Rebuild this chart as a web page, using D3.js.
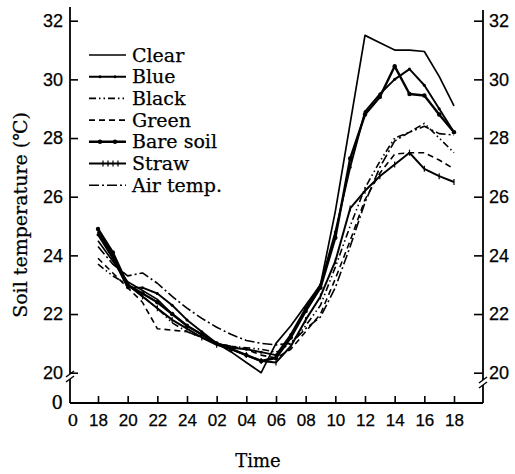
<!DOCTYPE html>
<html>
<head>
<meta charset="utf-8">
<script src="https://cdn.jsdelivr.net/npm/d3@7"></script>
<style>
  body { margin: 0; background: #fff; }
  svg { display: block; font-family: "DejaVu Serif", "Liberation Serif", serif; }
  svg text { stroke: #000; stroke-width: 0.25px; }
  .axis path { display: none; }
  .axis line { stroke: #000; stroke-width: 1.6; }
  .axis text { fill: #000; }
</style>
</head>
<body>
<div id="chart"></div>
<script>
// hours after 18:00 (18h of day 1 .. 18h of day 2), one reading per hour
var hours = d3.range(0, 25);
var tickHours = d3.range(0, 25, 2);
var tickLabels = ['18', '20', '22', '24', '02', '04', '06', '08', '10', '12', '14', '16', '18'];
var yTicks = [20, 22, 24, 26, 28, 30, 32];

var clear    = [24.5, 23.8, 23.1, 22.8, 22.5, 22.0, 21.6, 21.3, 21.0, 20.7, 20.35, 20.0, 21.0, 21.6, 22.3, 23.0, 25.5, 28.5, 31.5, 31.25, 31.0, 31.0, 30.95, 30.1, 29.1];
var blue     = [24.7, 23.9, 22.9, 22.9, 22.7, 22.3, 21.8, 21.4, 21.0, 20.85, 20.8, 20.7, 20.6, 21.3, 22.2, 23.0, 24.8, 27.0, 28.9, 29.5, 30.0, 30.35, 29.8, 29.0, 28.2];
var black    = [23.7, 23.3, 23.0, 22.6, 22.2, 21.7, 21.4, 21.2, 21.0, 20.9, 20.85, 20.8, 20.7, 21.0, 21.6, 22.3, 23.6, 25.0, 26.3, 27.2, 28.0, 28.2, 28.5, 28.0, 27.5];
var green    = [23.9, 23.4, 22.9, 22.4, 21.5, 21.45, 21.4, 21.2, 21.0, 20.9, 20.8, 20.6, 20.5, 20.8, 21.4, 22.0, 23.2, 24.5, 25.9, 26.8, 27.45, 27.5, 27.5, 27.25, 26.95];
var bareSoil = [24.9, 24.1, 23.0, 22.7, 22.4, 22.0, 21.6, 21.3, 21.0, 20.8, 20.6, 20.4, 20.5, 21.2, 22.1, 22.9, 24.6, 27.3, 28.8, 29.4, 30.45, 29.5, 29.45, 28.8, 28.2];
var straw    = [24.8, 24.0, 23.0, 22.6, 22.2, 21.8, 21.5, 21.2, 20.95, 20.8, 20.6, 20.4, 20.35, 20.9, 21.8, 22.6, 23.8, 25.6, 26.2, 26.7, 27.1, 27.5, 26.95, 26.7, 26.5];
var airTemp  = [24.3, 23.7, 23.3, 23.4, 23.05, 22.6, 22.2, 21.85, 21.55, 21.3, 21.1, 21.0, 20.95, 21.0, 21.5, 21.9, 22.9, 24.3, 25.8, 27.0, 27.9, 28.2, 28.4, 28.15, 28.1];

var series = [
  { name: 'Clear',     values: clear,    width: 1.7, dash: null,              marker: null },
  { name: 'Blue',      values: blue,     width: 1.9, dash: null,              marker: 'dot' },
  { name: 'Black',     values: black,    width: 1.6, dash: '7,3,1.5,3,1.5,3', marker: null },
  { name: 'Green',     values: green,    width: 1.6, dash: '6,4',             marker: null },
  { name: 'Bare soil', values: bareSoil, width: 2.4, dash: null,              marker: 'bigdot' },
  { name: 'Straw',     values: straw,    width: 2.0, dash: null,              marker: 'tick' },
  { name: 'Air temp.', values: airTemp,  width: 1.6, dash: '10,3,2,3',        marker: null }
];

var width = 515, height = 474;
var xLeft = 70, xRight = 483, yBottom = 403;

var svg = d3.select('#chart').append('svg')
  .attr('width', width)
  .attr('height', height);

var x = d3.scaleLinear().domain([0, 24]).range([98, 454]);
var y = d3.scaleLinear().domain([20, 32]).range([372.7, 20.7]);

// axes
svg.append('g')
  .attr('class', 'axis')
  .attr('transform', 'translate(0,' + yBottom + ')')
  .call(d3.axisBottom(x).tickValues(tickHours).tickSize(-7).tickSizeOuter(0).tickPadding(11)
    .tickFormat(function (d, i) { return tickLabels[i]; }))
  .selectAll('text').style('font-size', '17px');

svg.append('g')
  .attr('class', 'axis')
  .attr('transform', 'translate(' + xLeft + ',0)')
  .call(d3.axisLeft(y).tickValues(yTicks).tickSize(-8).tickSizeOuter(0).tickPadding(7))
  .selectAll('text').style('font-size', '18px');

svg.append('g')
  .attr('class', 'axis')
  .attr('transform', 'translate(' + xRight + ',0)')
  .call(d3.axisRight(y).tickValues(yTicks).tickSize(-9).tickSizeOuter(0).tickPadding(6))
  .selectAll('text').style('font-size', '18px');

// axis lines
svg.append('line').attr('x1', xLeft).attr('x2', xLeft).attr('y1', 7).attr('y2', yBottom)
  .attr('stroke', '#000').attr('stroke-width', 1.8);
svg.append('line').attr('x1', xRight).attr('x2', xRight).attr('y1', 10).attr('y2', yBottom)
  .attr('stroke', '#000').attr('stroke-width', 1.8);
svg.append('line').attr('x1', xLeft).attr('x2', xRight).attr('y1', yBottom).attr('y2', yBottom)
  .attr('stroke', '#000').attr('stroke-width', 1.8);

// axis breaks
function axisBreak(cx, cy) {
  svg.append('rect').attr('x', cx - 3).attr('y', cy - 2).attr('width', 6).attr('height', 5).attr('fill', '#fff');
  [-2, 3].forEach(function (o) {
    svg.append('line')
      .attr('x1', cx - 4).attr('y1', cy + o + 3)
      .attr('x2', cx + 4).attr('y2', cy + o - 3)
      .attr('stroke', '#000').attr('stroke-width', 1.4);
  });
}
axisBreak(xLeft, 376);
axisBreak(xRight, 382);

// origin labels
svg.append('text').attr('x', xLeft - 7).attr('y', yBottom).attr('dy', '0.32em')
  .attr('text-anchor', 'end').style('font-size', '18px').text('0');
svg.append('text').attr('x', xLeft + 3).attr('y', yBottom + 11).attr('dy', '0.71em')
  .attr('text-anchor', 'middle').style('font-size', '17px').text('0');

// titles
svg.append('text').attr('x', 258).attr('y', 467).attr('text-anchor', 'middle')
  .style('font-size', '18px').text('Time');
svg.append('text')
  .attr('transform', 'translate(27,215) rotate(-90)')
  .attr('text-anchor', 'middle')
  .style('font-size', '19px')
  .text('Soil temperature (℃)');

// lines
var line = d3.line()
  .x(function (d, i) { return x(hours[i]); })
  .y(function (d) { return y(d); });

function drawMarkers(g, pts, kind) {
  if (kind === 'dot' || kind === 'bigdot') {
    g.selectAll('circle').data(pts).enter().append('circle')
      .attr('cx', function (d) { return d[0]; })
      .attr('cy', function (d) { return d[1]; })
      .attr('r', kind === 'dot' ? 1.5 : 2.2)
      .attr('fill', '#000');
  } else if (kind === 'tick') {
    g.selectAll('line.mk').data(pts).enter().append('line')
      .attr('class', 'mk')
      .attr('x1', function (d) { return d[0]; }).attr('x2', function (d) { return d[0]; })
      .attr('y1', function (d) { return d[1] - 3; }).attr('y2', function (d) { return d[1] + 3; })
      .attr('stroke', '#000').attr('stroke-width', 1.2);
  }
}

series.forEach(function (s) {
  var g = svg.append('g');
  g.append('path')
    .attr('d', line(s.values))
    .attr('fill', 'none')
    .attr('stroke', '#000')
    .attr('stroke-width', s.width)
    .attr('stroke-dasharray', s.dash)
    .attr('stroke-linejoin', 'round');
  if (s.marker) {
    drawMarkers(g, s.values.map(function (v, i) { return [x(hours[i]), y(v)]; }), s.marker);
  }
});

// legend
var legend = svg.append('g');
series.forEach(function (s, i) {
  var ly = 55 + i * 21.7;
  var g = legend.append('g');
  g.append('line')
    .attr('x1', 89).attr('x2', 126).attr('y1', ly).attr('y2', ly)
    .attr('stroke', '#000')
    .attr('stroke-width', s.width)
    .attr('stroke-dasharray', s.dash);
  if (s.marker === 'tick') {
    drawMarkers(g, [[103, ly], [108, ly], [113, ly], [118, ly]], 'tick');
  } else if (s.marker) {
    drawMarkers(g, [[100, ly], [115, ly]], s.marker);
  }
  g.append('text')
    .attr('x', 132).attr('y', ly).attr('dy', '0.35em')
    .style('font-size', '19px')
    .text(s.name);
});
</script>
</body>
</html>
